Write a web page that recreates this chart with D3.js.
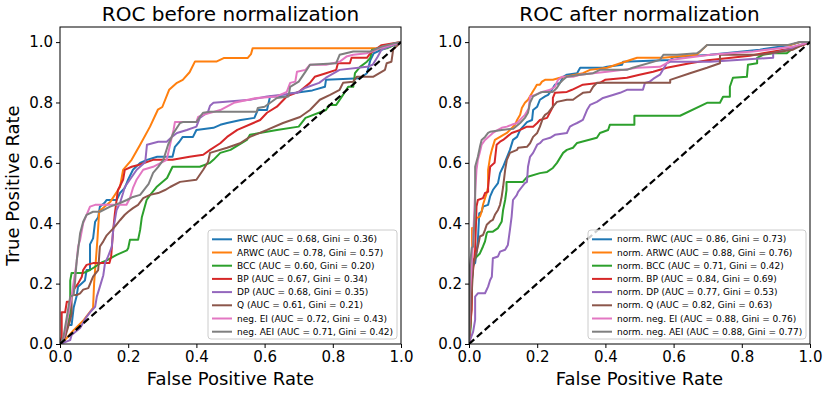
<!DOCTYPE html>
<html>
<head>
<meta charset="utf-8">
<script src="https://cdn.jsdelivr.net/npm/d3@7"></script>
<style>
  body { margin: 0; background: #fff; }
  svg text { font-family: "DejaVu Sans", sans-serif; fill: #000; }
</style>
</head>
<body>
<div id="chart"></div>
<script>
// series names, colours and scores
const methods = ["RWC", "ARWC", "BCC", "BP", "DP", "Q", "neg. EI", "neg. AEI"];
const colors = ["#1f77b4", "#ff7f0e", "#2ca02c", "#d62728", "#9467bd", "#8c564b", "#e377c2", "#7f7f7f"];
const aucBefore = [0.68, 0.78, 0.60, 0.67, 0.68, 0.61, 0.72, 0.71];
const giniBefore = [0.36, 0.57, 0.20, 0.34, 0.35, 0.21, 0.43, 0.42];
const aucAfter = [0.86, 0.88, 0.71, 0.84, 0.77, 0.82, 0.88, 0.88];
const giniAfter = [0.73, 0.76, 0.42, 0.69, 0.53, 0.63, 0.76, 0.77];
const ticks = [0, 0.2, 0.4, 0.6, 0.8, 1.0];

// ROC points [fpr, tpr], before normalization
const rwcBefore = [[0,0],[0.015,0.023],[0.02,0.063],[0.034,0.063],[0.04,0.12],[0.049,0.16],[0.053,0.19],[0.073,0.21],[0.078,0.245],[0.088,0.245],[0.088,0.33],[0.097,0.35],[0.103,0.405],[0.112,0.42],[0.117,0.455],[0.13,0.467],[0.137,0.477],[0.166,0.477],[0.176,0.5],[0.19,0.517],[0.2,0.545],[0.214,0.577],[0.235,0.6],[0.255,0.61],[0.285,0.62],[0.33,0.62],[0.337,0.653],[0.35,0.67],[0.36,0.686],[0.39,0.686],[0.4,0.709],[0.45,0.716],[0.47,0.726],[0.49,0.732],[0.53,0.742],[0.57,0.749],[0.58,0.775],[0.607,0.775],[0.616,0.82],[0.665,0.82],[0.675,0.83],[0.74,0.84],[0.777,0.852],[0.78,0.875],[0.88,0.88],[0.9,0.897],[0.91,0.94],[0.92,0.963],[0.94,0.973],[0.977,0.99],[1,1]];
const arwcBefore = [[0,0],[0.02,0.02],[0.04,0.046],[0.07,0.08],[0.097,0.12],[0.1,0.2],[0.11,0.35],[0.115,0.44],[0.147,0.47],[0.176,0.52],[0.185,0.577],[0.21,0.61],[0.235,0.66],[0.264,0.72],[0.287,0.776],[0.3,0.785],[0.32,0.842],[0.343,0.865],[0.36,0.875],[0.38,0.9],[0.396,0.936],[0.46,0.936],[0.48,0.947],[0.55,0.947],[0.56,0.96],[0.565,0.98],[0.94,0.98],[0.96,0.99],[1,1]];
const bccBefore = [[0,0],[0.015,0.03],[0.03,0.1],[0.03,0.21],[0.034,0.235],[0.068,0.235],[0.088,0.245],[0.122,0.27],[0.137,0.277],[0.166,0.295],[0.196,0.31],[0.2,0.317],[0.205,0.345],[0.229,0.345],[0.235,0.378],[0.24,0.42],[0.254,0.477],[0.264,0.493],[0.283,0.52],[0.314,0.55],[0.33,0.587],[0.41,0.587],[0.44,0.6],[0.45,0.61],[0.47,0.633],[0.5,0.643],[0.548,0.676],[0.557,0.693],[0.636,0.709],[0.7,0.72],[0.72,0.749],[0.78,0.775],[0.79,0.792],[0.81,0.792],[0.83,0.825],[0.845,0.852],[0.86,0.852],[0.865,0.897],[0.88,0.918],[0.9,0.935],[0.91,0.948],[0.915,0.975],[0.96,0.98],[1,1]];
const bpBefore = [[0,0],[0.005,0.023],[0.005,0.105],[0.015,0.105],[0.02,0.14],[0.03,0.14],[0.04,0.18],[0.053,0.2],[0.064,0.223],[0.068,0.245],[0.078,0.262],[0.097,0.268],[0.145,0.268],[0.15,0.29],[0.156,0.378],[0.161,0.433],[0.166,0.477],[0.17,0.51],[0.185,0.544],[0.19,0.577],[0.21,0.587],[0.23,0.593],[0.273,0.61],[0.33,0.61],[0.38,0.62],[0.42,0.627],[0.44,0.643],[0.47,0.665],[0.49,0.686],[0.52,0.709],[0.567,0.732],[0.587,0.742],[0.607,0.766],[0.636,0.786],[0.665,0.82],[0.7,0.835],[0.733,0.865],[0.747,0.885],[0.78,0.897],[0.81,0.908],[0.815,0.93],[0.85,0.93],[0.855,0.948],[0.9,0.948],[0.91,0.963],[0.943,0.99],[1,1]];
const dpBefore = [[0,0],[0.03,0.013],[0.034,0.03],[0.059,0.053],[0.078,0.09],[0.088,0.105],[0.103,0.123],[0.108,0.157],[0.117,0.19],[0.127,0.228],[0.132,0.268],[0.141,0.29],[0.152,0.323],[0.156,0.378],[0.166,0.444],[0.176,0.467],[0.185,0.5],[0.19,0.52],[0.225,0.577],[0.25,0.603],[0.255,0.66],[0.288,0.67],[0.313,0.67],[0.328,0.686],[0.343,0.699],[0.372,0.709],[0.4,0.72],[0.41,0.749],[0.434,0.769],[0.44,0.789],[0.45,0.799],[0.557,0.809],[0.607,0.82],[0.645,0.825],[0.695,0.832],[0.72,0.849],[0.76,0.865],[0.78,0.882],[0.82,0.908],[0.9,0.918],[0.917,0.925],[0.932,0.952],[0.943,0.975],[1,1]];
const qBefore = [[0,0],[0.015,0.023],[0.03,0.08],[0.034,0.1],[0.034,0.162],[0.049,0.162],[0.059,0.168],[0.068,0.18],[0.083,0.185],[0.097,0.223],[0.112,0.245],[0.117,0.323],[0.127,0.34],[0.137,0.36],[0.152,0.378],[0.161,0.389],[0.176,0.41],[0.19,0.428],[0.2,0.438],[0.214,0.45],[0.229,0.461],[0.244,0.483],[0.264,0.494],[0.288,0.5],[0.308,0.51],[0.323,0.52],[0.352,0.537],[0.4,0.544],[0.42,0.577],[0.434,0.603],[0.44,0.633],[0.49,0.65],[0.528,0.665],[0.557,0.686],[0.607,0.709],[0.654,0.732],[0.704,0.752],[0.733,0.775],[0.762,0.809],[0.792,0.825],[0.82,0.842],[0.83,0.865],[0.86,0.869],[0.87,0.885],[0.918,0.885],[0.953,0.908],[0.958,0.93],[0.972,0.935],[0.977,0.975],[1,1]];
const eiBefore = [[0,0],[0.01,0.013],[0.034,0.157],[0.04,0.205],[0.049,0.272],[0.053,0.323],[0.059,0.345],[0.068,0.4],[0.078,0.428],[0.088,0.455],[0.103,0.461],[0.195,0.461],[0.205,0.483],[0.214,0.517],[0.225,0.545],[0.244,0.577],[0.273,0.587],[0.313,0.61],[0.328,0.686],[0.333,0.709],[0.337,0.735],[0.4,0.735],[0.405,0.752],[0.42,0.759],[0.47,0.775],[0.51,0.799],[0.577,0.815],[0.636,0.82],[0.665,0.835],[0.675,0.865],[0.69,0.869],[0.695,0.902],[0.72,0.908],[0.733,0.925],[0.78,0.925],[0.82,0.935],[0.84,0.952],[0.86,0.958],[0.9,0.963],[0.94,0.98],[1,1]];
const aeiBefore = [[0,0],[0.01,0.023],[0.03,0.157],[0.04,0.162],[0.044,0.205],[0.049,0.277],[0.053,0.31],[0.059,0.367],[0.068,0.405],[0.078,0.428],[0.097,0.438],[0.117,0.438],[0.147,0.455],[0.176,0.467],[0.196,0.477],[0.214,0.487],[0.235,0.494],[0.26,0.53],[0.273,0.567],[0.288,0.587],[0.303,0.61],[0.317,0.66],[0.333,0.699],[0.352,0.732],[0.36,0.735],[0.4,0.735],[0.41,0.752],[0.42,0.766],[0.44,0.769],[0.577,0.769],[0.58,0.782],[0.6,0.786],[0.636,0.815],[0.67,0.82],[0.675,0.852],[0.7,0.869],[0.72,0.902],[0.733,0.925],[0.81,0.93],[0.82,0.958],[0.86,0.969],[0.91,0.969],[0.943,0.985],[0.977,0.995],[1,1]];

// ROC points [fpr, tpr], after normalization
const rwcAfter = [[0,0],[0.003,0.1],[0.008,0.2],[0.012,0.262],[0.018,0.268],[0.026,0.34],[0.03,0.433],[0.037,0.438],[0.041,0.455],[0.056,0.461],[0.062,0.489],[0.07,0.51],[0.085,0.533],[0.091,0.566],[0.1,0.587],[0.12,0.643],[0.129,0.676],[0.141,0.686],[0.15,0.709],[0.17,0.735],[0.185,0.742],[0.188,0.775],[0.2,0.786],[0.208,0.809],[0.223,0.82],[0.232,0.825],[0.243,0.842],[0.252,0.859],[0.267,0.865],[0.276,0.885],[0.287,0.892],[0.317,0.897],[0.326,0.915],[0.393,0.915],[0.405,0.918],[0.449,0.925],[0.452,0.935],[0.59,0.941],[0.6,0.95],[0.707,0.958],[0.853,0.975],[0.941,0.99],[0.97,1],[1,1]];
const arwcAfter = [[0,0],[0.003,0.05],[0.008,0.18],[0.009,0.278],[0.009,0.384],[0.018,0.384],[0.022,0.417],[0.032,0.422],[0.037,0.438],[0.041,0.461],[0.047,0.483],[0.052,0.5],[0.056,0.52],[0.056,0.577],[0.062,0.62],[0.067,0.643],[0.076,0.676],[0.091,0.686],[0.111,0.699],[0.135,0.726],[0.141,0.742],[0.15,0.759],[0.155,0.782],[0.164,0.799],[0.173,0.809],[0.185,0.832],[0.194,0.849],[0.199,0.859],[0.208,0.859],[0.214,0.869],[0.223,0.875],[0.246,0.875],[0.267,0.882],[0.334,0.897],[0.355,0.908],[0.405,0.915],[0.457,0.935],[0.493,0.948],[0.57,0.948],[0.668,0.958],[0.698,0.99],[0.941,0.99],[0.97,1],[1,1]];
const bccAfter = [[0,0],[0.003,0.03],[0.005,0.057],[0.008,0.2],[0.012,0.278],[0.018,0.284],[0.032,0.3],[0.041,0.323],[0.047,0.34],[0.052,0.367],[0.056,0.372],[0.07,0.372],[0.085,0.384],[0.096,0.406],[0.1,0.444],[0.106,0.477],[0.11,0.51],[0.11,0.537],[0.158,0.537],[0.17,0.553],[0.208,0.566],[0.229,0.57],[0.246,0.583],[0.258,0.6],[0.276,0.633],[0.287,0.643],[0.305,0.65],[0.317,0.666],[0.375,0.683],[0.384,0.699],[0.408,0.709],[0.413,0.726],[0.485,0.726],[0.485,0.756],[0.619,0.756],[0.698,0.799],[0.736,0.799],[0.745,0.819],[0.765,0.819],[0.765,0.852],[0.774,0.882],[0.815,0.885],[0.818,0.925],[0.845,0.93],[0.845,0.948],[0.862,0.958],[0.892,0.963],[0.932,0.963],[0.95,0.98],[0.97,0.99],[1,1]];
const bpAfter = [[0,0],[0.005,0.08],[0.008,0.113],[0.009,0.223],[0.012,0.245],[0.018,0.312],[0.022,0.455],[0.026,0.477],[0.041,0.483],[0.047,0.5],[0.056,0.504],[0.056,0.52],[0.062,0.587],[0.075,0.6],[0.081,0.66],[0.091,0.67],[0.1,0.676],[0.111,0.686],[0.125,0.699],[0.15,0.709],[0.17,0.72],[0.188,0.72],[0.2,0.732],[0.208,0.742],[0.229,0.749],[0.246,0.786],[0.246,0.815],[0.252,0.832],[0.287,0.835],[0.302,0.842],[0.334,0.859],[0.384,0.865],[0.399,0.875],[0.463,0.882],[0.5,0.892],[0.54,0.902],[0.58,0.915],[0.648,0.93],[0.7,0.94],[0.824,0.955],[0.862,0.963],[0.95,0.98],[0.98,0.99],[1,1]];
const dpAfter = [[0,0],[0.003,0.013],[0.012,0.04],[0.018,0.08],[0.018,0.157],[0.026,0.168],[0.047,0.168],[0.056,0.19],[0.062,0.212],[0.067,0.223],[0.07,0.284],[0.085,0.29],[0.091,0.306],[0.106,0.312],[0.114,0.328],[0.12,0.378],[0.125,0.422],[0.129,0.477],[0.14,0.493],[0.144,0.504],[0.155,0.52],[0.164,0.533],[0.17,0.537],[0.173,0.587],[0.179,0.62],[0.188,0.633],[0.2,0.66],[0.208,0.665],[0.217,0.676],[0.238,0.683],[0.252,0.693],[0.287,0.699],[0.296,0.72],[0.305,0.726],[0.317,0.732],[0.334,0.742],[0.346,0.775],[0.355,0.792],[0.375,0.802],[0.393,0.815],[0.422,0.825],[0.443,0.832],[0.463,0.842],[0.51,0.842],[0.516,0.865],[0.53,0.869],[0.54,0.878],[0.56,0.892],[0.58,0.93],[0.59,0.935],[0.707,0.935],[0.892,0.948],[0.892,0.963],[0.95,0.98],[0.99,0.997],[1,1]];
const qAfter = [[0,0],[0.005,0.1],[0.012,0.255],[0.026,0.323],[0.032,0.356],[0.041,0.361],[0.047,0.378],[0.052,0.395],[0.062,0.406],[0.07,0.411],[0.076,0.428],[0.085,0.444],[0.091,0.461],[0.096,0.489],[0.1,0.52],[0.106,0.577],[0.111,0.61],[0.12,0.633],[0.141,0.643],[0.144,0.65],[0.17,0.653],[0.179,0.665],[0.188,0.686],[0.2,0.699],[0.208,0.72],[0.217,0.749],[0.223,0.759],[0.232,0.766],[0.238,0.775],[0.246,0.786],[0.258,0.802],[0.287,0.809],[0.305,0.809],[0.317,0.819],[0.334,0.832],[0.355,0.835],[0.364,0.852],[0.375,0.865],[0.59,0.865],[0.59,0.875],[0.648,0.897],[0.698,0.915],[0.736,0.93],[0.736,0.958],[0.853,0.958],[0.95,0.975],[0.977,0.99],[1,1]];
const eiAfter = [[0,0],[0.003,0.168],[0.008,0.262],[0.012,0.35],[0.018,0.5],[0.022,0.577],[0.026,0.61],[0.032,0.636],[0.037,0.66],[0.047,0.676],[0.07,0.699],[0.085,0.709],[0.096,0.716],[0.111,0.72],[0.125,0.726],[0.141,0.732],[0.155,0.749],[0.164,0.759],[0.175,0.78],[0.179,0.82],[0.194,0.825],[0.214,0.835],[0.238,0.842],[0.252,0.852],[0.261,0.875],[0.273,0.885],[0.305,0.885],[0.326,0.892],[0.364,0.897],[0.405,0.902],[0.452,0.908],[0.493,0.915],[0.56,0.918],[0.58,0.93],[0.59,0.941],[0.707,0.958],[0.833,0.969],[0.95,0.985],[1,1]];
const aeiAfter = [[0,0],[0.003,0.262],[0.008,0.318],[0.012,0.323],[0.018,0.45],[0.018,0.587],[0.026,0.62],[0.032,0.653],[0.037,0.676],[0.047,0.686],[0.056,0.699],[0.062,0.703],[0.096,0.709],[0.13,0.713],[0.15,0.732],[0.164,0.749],[0.173,0.766],[0.179,0.799],[0.188,0.82],[0.208,0.832],[0.217,0.835],[0.246,0.835],[0.258,0.849],[0.267,0.865],[0.276,0.875],[0.287,0.885],[0.326,0.892],[0.364,0.897],[0.384,0.908],[0.463,0.908],[0.48,0.915],[0.56,0.941],[0.57,0.958],[0.61,0.958],[0.668,0.963],[0.677,0.969],[0.698,0.99],[0.933,0.99],[0.97,1],[1,1]];

const curvesBefore = [rwcBefore, arwcBefore, bccBefore, bpBefore, dpBefore, qBefore, eiBefore, aeiBefore];
const curvesAfter = [rwcAfter, arwcAfter, bccAfter, bpAfter, dpAfter, qAfter, eiAfter, aeiAfter];

let width = 830;
let height = 394;

let svg = d3.select('#chart')
  .append("svg")
  .attr("width", width)
  .attr("height", height);

let fmt = d3.format(".2f");

function panel(opts){
  let x = d3.scaleLinear().domain([0, 1]).range([opts.left, opts.right]);
  let y = d3.scaleLinear().domain([0, 1.05]).range([344, 27]);
  let g = svg.append("g");

  g.append("clipPath").attr("id", opts.id)
    .append("rect")
    .attr("x", opts.left).attr("y", 27)
    .attr("width", opts.right - opts.left).attr("height", 317);

  let line = d3.line().x(d => x(d[0])).y(d => y(d[1]));

  let plot = g.append("g").attr("clip-path", "url(#" + opts.id + ")");
  plot.selectAll(".roc")
    .data(opts.curves)
    .enter().append("path")
    .attr("class", "roc")
    .attr("fill", "none")
    .attr("stroke", (d, i) => colors[i])
    .attr("stroke-width", 2)
    .attr("stroke-linejoin", "round")
    .attr("d", line);

  //chance line
  plot.append("path")
    .attr("d", line([[0, 0], [1, 1]]))
    .attr("fill", "none")
    .attr("stroke", "#000")
    .attr("stroke-width", 2.2)
    .attr("stroke-dasharray", "7,3.5");

  //frame
  g.append("rect")
    .attr("x", opts.left).attr("y", 27)
    .attr("width", opts.right - opts.left).attr("height", 317)
    .attr("fill", "none").attr("stroke", "#000").attr("stroke-width", 1);

  let xAxis = g.append("g")
    .attr("transform", "translate(0,344)")
    .call(d3.axisBottom(x).tickValues(ticks).tickFormat(d3.format(".1f")).tickSize(4).tickPadding(3));
  let yAxis = g.append("g")
    .attr("transform", "translate(" + opts.left + ",0)")
    .call(d3.axisLeft(y).tickValues(ticks).tickFormat(d3.format(".1f")).tickSize(4).tickPadding(3));
  [xAxis, yAxis].forEach(a => {
    a.select(".domain").remove();
    a.selectAll("text").style("font-family", "DejaVu Sans").style("font-size", "15px").attr("fill", "#000");
    a.selectAll("line").attr("stroke", "#000");
  });

  let cx = (opts.left + opts.right) / 2;
  g.append("text").attr("x", cx).attr("y", 21)
    .attr("text-anchor", "middle").style("font-size", "20px")
    .text(opts.title);
  g.append("text").attr("x", cx).attr("y", 385)
    .attr("text-anchor", "middle").style("font-size", "18px")
    .text("False Positive Rate");

  //legend
  let lg = g.append("g");
  lg.append("rect")
    .attr("x", opts.legendX).attr("y", 230)
    .attr("width", opts.right - 4 - opts.legendX).attr("height", 109)
    .attr("rx", 3)
    .attr("fill", "#fff").attr("fill-opacity", 0.8)
    .attr("stroke", "#ccc").attr("stroke-width", 1);
  let items = lg.selectAll(".item")
    .data(methods)
    .enter().append("g")
    .attr("class", "item")
    .attr("transform", (d, i) => "translate(" + opts.legendX + "," + (239.3 + i * 13.2) + ")");
  items.append("line")
    .attr("x1", 4).attr("x2", 24)
    .attr("stroke", (d, i) => colors[i]).attr("stroke-width", 2);
  items.append("text")
    .attr("x", 29).attr("dy", "0.35em")
    .style("font-size", "9px")
    .text((d, i) => opts.prefix + d + " (AUC = " + fmt(opts.auc[i]) + ", Gini = " + fmt(opts.gini[i]) + ")");
}

panel({id: "clipL", left: 60, right: 401, curves: curvesBefore, title: "ROC before normalization",
  legendX: 208, prefix: "", auc: aucBefore, gini: giniBefore});
panel({id: "clipR", left: 469, right: 810, curves: curvesAfter, title: "ROC after normalization",
  legendX: 588, prefix: "norm. ", auc: aucAfter, gini: giniAfter});

svg.append("text")
  .attr("transform", "translate(19,185.5) rotate(-90)")
  .attr("text-anchor", "middle")
  .style("font-size", "18px")
  .text("True Positive Rate");
</script>
</body>
</html>
